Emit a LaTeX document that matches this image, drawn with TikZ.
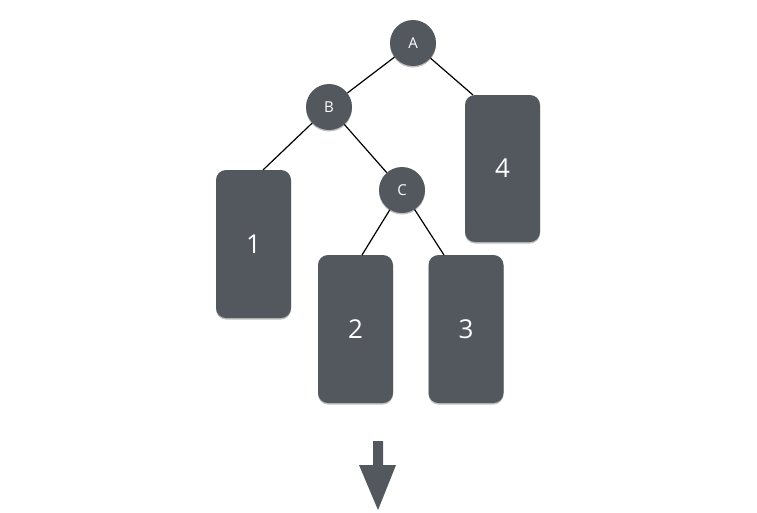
\documentclass[tikz,border=0pt]{standalone}
\usepackage{fontspec}
\setmainfont{Open Sans}
\usetikzlibrary{shadows}
\definecolor{boxgrey}{RGB}{83,87,94}
\tikzset{
  softshadow/.style={drop shadow={shadow xshift=0pt, shadow yshift=-1.5pt, opacity=0.25, fill=black}},
  treenode/.style={circle, fill=boxgrey, minimum size=46pt, inner sep=0pt, text=white, font=\fontsize{15}{18}\selectfont, softshadow},
  leafbox/.style={rectangle, rounded corners=10pt, fill=boxgrey, minimum width=75pt, minimum height=148pt, inner sep=0pt, text=white, font=\fontsize{26}{30}\selectfont, softshadow},
  edge/.style={draw=black, line width=1.2pt}
}
\begin{document}
\begin{tikzpicture}[x=1pt, y=-1pt]
\useasboundingbox (0,0) rectangle (757,512);
% leaves
\node[leafbox] (n1) at (253.5,244) {1};
\node[leafbox] (n2) at (355.5,329) {2};
\node[leafbox] (n3) at (466,329) {3};
\node[leafbox, minimum height=147pt] (n4) at (502.5,168.5) {4};
% internal nodes
\node[treenode] (A) at (413,43) {A};
\node[treenode] (B) at (329,107) {B};
\node[treenode] (C) at (402,190) {C};
% attachment points on the tops of the leaves
\coordinate (t1) at (263,170);
\coordinate (t2) at (362,255);
\coordinate (t3) at (444,255);
\coordinate (t4) at (473,95);
% edges
\draw[edge] (A) -- (B);
\draw[edge] (A) -- (t4);
\draw[edge] (B) -- (t1);
\draw[edge] (B) -- (C);
\draw[edge] (C) -- (t2);
\draw[edge] (C) -- (t3);
% down arrow
\fill[boxgrey] (373,441) -- (383,441) -- (383,465) -- (396,465) -- (378,510) -- (359,465) -- (373,465) -- cycle;
\end{tikzpicture}
\end{document}
